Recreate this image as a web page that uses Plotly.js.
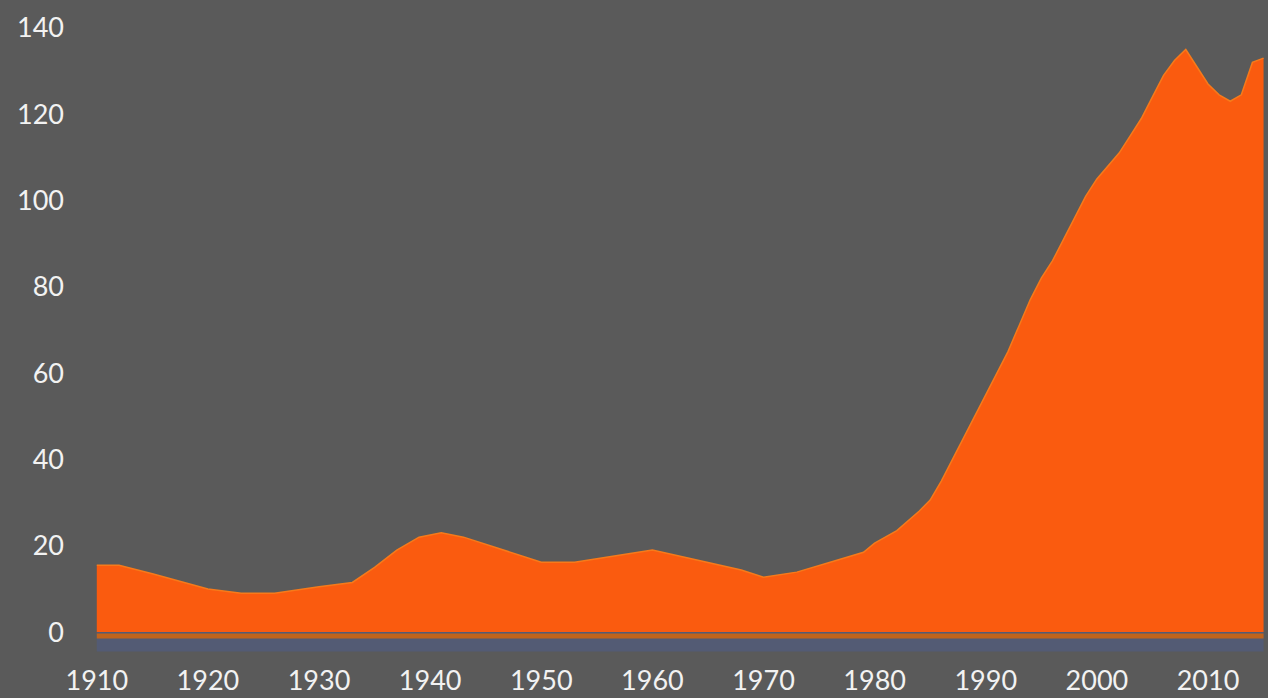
<!DOCTYPE html>
<html>
<head>
<meta charset="utf-8">
<script src="https://cdn.plot.ly/plotly-3.0.1.min.js"></script>
<style>html,body{margin:0;padding:0;background:#5a5a5a;}#chart{width:1268px;height:698px;}</style>
</head>
<body>
<div id="chart"></div>
<script>
const years = [1910,1912,1915,1918,1920,1923,1926,1930,1933,1935,1937,1939,1941,1943,1946,1950,1953,1957,1960,1964,1968,1970,1973,1976,1979,1980,1982,1984,1985,1986,1988,1990,1991,1992,1993,1994,1995,1996,1997,1998,1999,2000,2001,2002,2003,2004,2005,2006,2007,2008,2009,2010,2011,2012,2013,2014,2015];
const values = [15.5,15.5,13.5,11.5,10,9,9,10.5,11.5,15,19,22,23,22,19.5,16.2,16.2,17.8,19,16.7,14.4,12.7,13.9,16.2,18.5,20.6,23.5,28,30.6,35,45,55,60,65,71,77,82,86,91,96,101,105,108,111,115,119,124,129,132.5,135,131,127,124.5,123,124.5,132,133];
const bandYears = [1910,1930,1950,1970,1990,2010,2015];
const bandValues = [-4.5,-4.5,-4.5,-4.5,-4.5,-4.5,-4.5];
const xTicks = [1910,1920,1930,1940,1950,1960,1970,1980,1990,2000,2010];
const yTicks = [0,20,40,60,80,100,120,140];

const traces = [
  {x: bandYears, y: bandValues, type:'scatter', mode:'lines', fill:'tozeroy',
   line:{width:0, color:'#4b6088'}, fillcolor:'rgba(78,92,138,0.55)', hoverinfo:'skip', showlegend:false},
  {x: bandYears, y: bandValues.map(v => -0.9), type:'scatter', mode:'lines',
   line:{width:5, color:'#c0641c'}, hoverinfo:'skip', showlegend:false},
  {x: years, y: values, type:'scatter', mode:'lines', fill:'tozeroy',
   line:{width:1.5, color:'#f77a1a'}, fillcolor:'#fa5b0f', showlegend:false}
];
const layout = {
  width:1268, height:698,
  paper_bgcolor:'#5a5a5a', plot_bgcolor:'#5a5a5a',
  margin:{l:69, r:0, t:2, b:40},
  font:{family:'Lato, "Open Sans", sans-serif', color:'#f2f2f2', size:27},
  xaxis:{range:[1907.5,2015.4], tickvals:xTicks, ticktext:xTicks.map(String),
         showgrid:false, zeroline:false, showline:false, ticks:'', ticklabelstandoff:4,
         tickfont:{size:27, color:'#f2f2f2'}},
  yaxis:{range:[-6,146], tickvals:yTicks, ticktext:yTicks.map(String),
         showgrid:false, zeroline:false, showline:false, ticks:'', ticklabelstandoff:4,
         tickfont:{size:27, color:'#f2f2f2'}}
};
Plotly.newPlot('chart', traces, layout, {displayModeBar:false, staticPlot:true});
</script>
</body>
</html>
